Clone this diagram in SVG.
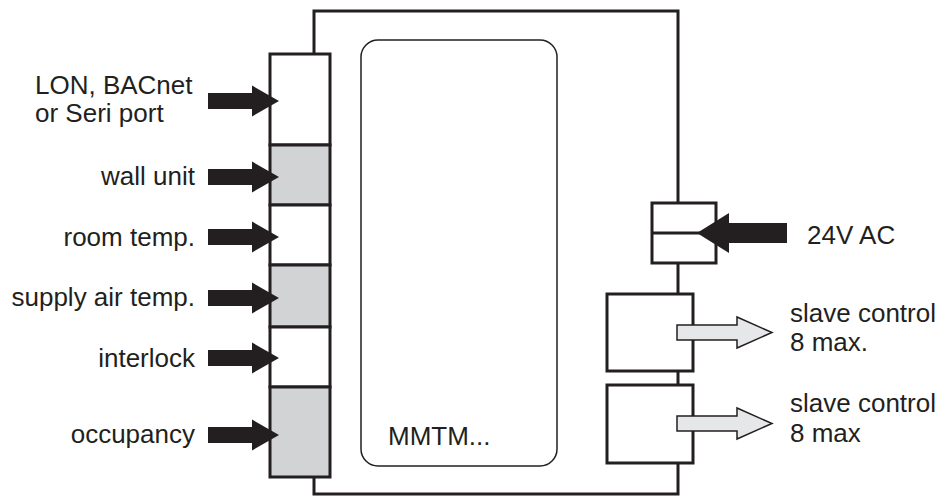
<svg xmlns="http://www.w3.org/2000/svg" width="949" height="496" viewBox="0 0 949 496">
<style>
.frame{fill:#fff;stroke:#231f20;stroke-width:3}
.inner{fill:#fff;stroke:#231f20;stroke-width:1.5}
.cellw{fill:#fff;stroke:#231f20;stroke-width:3}
.cellg{fill:#d1d3d4;stroke:#231f20;stroke-width:3}
.barrow{fill:#231f20}
.garrow{fill:#e6e7e8;stroke:#231f20;stroke-width:1.5;stroke-linejoin:miter}
text{font-family:"Liberation Sans",Arial,sans-serif;font-size:26px;fill:#231f20}
.r{text-anchor:end}
</style>
<defs>
<polygon id="inArrow" points="-71,-8 -27,-8 -27,-15.5 0,0 -27,15.5 -27,8 -71,8"/>
</defs>
<g id="controller">
<rect class="frame" x="314" y="11" width="364" height="483"/>
<rect class="inner" x="361" y="40" width="196" height="426" rx="17"/>
<text x="388" y="445">MMTM...</text>
</g>
<g id="port-column">
<rect id="cell-lon" class="cellw" x="270" y="54" width="60" height="91"/>
<rect id="cell-wall" class="cellg" x="270" y="145" width="60" height="60"/>
<rect id="cell-room" class="cellw" x="270" y="205" width="60" height="60"/>
<rect id="cell-supply" class="cellg" x="270" y="265" width="60" height="62"/>
<rect id="cell-interlock" class="cellw" x="270" y="327" width="60" height="60"/>
<rect id="cell-occupancy" class="cellg" x="270" y="387" width="60" height="90"/>
</g>
<g id="power-terminal">
<rect class="cellw" x="652" y="203" width="64" height="60"/>
<line x1="652" y1="233" x2="716" y2="233" stroke="#231f20" stroke-width="3"/>
</g>
<g id="slave-terminal-1"><rect class="cellw" x="607" y="294" width="86" height="77"/></g>
<g id="slave-terminal-2"><rect class="cellw" x="607" y="385" width="86" height="78"/></g>
<g id="connectors">
<use href="#inArrow" class="barrow" x="279" y="101"/>
<use href="#inArrow" class="barrow" x="279" y="177"/>
<use href="#inArrow" class="barrow" x="279" y="237"/>
<use href="#inArrow" class="barrow" x="279" y="298"/>
<use href="#inArrow" class="barrow" x="279" y="358"/>
<use href="#inArrow" class="barrow" x="279" y="435"/>
<polygon class="barrow" points="697,233 729,213 729,223 787,223 787,243 729,243 729,253"/>
<polygon class="garrow" points="677,325 737,325 737,317 772,332.5 737,348 737,340 677,340"/>
<polygon class="garrow" points="677,416 737,416 737,408 772,423.5 737,439 737,431 677,431"/>
</g>
<g id="labels">
<text x="35" y="94">LON, BACnet</text>
<text x="35" y="122">or Seri port</text>
<text class="r" x="195" y="185">wall unit</text>
<text class="r" x="195" y="246">room temp.</text>
<text class="r" x="195" y="306">supply air temp.</text>
<text class="r" x="195" y="367">interlock</text>
<text class="r" x="195" y="443">occupancy</text>
<text x="807" y="244">24V AC</text>
<text x="790" y="322">slave control</text>
<text x="790" y="351">8 max.</text>
<text x="790" y="412">slave control</text>
<text x="790" y="442">8 max</text>
</g>
</svg>
